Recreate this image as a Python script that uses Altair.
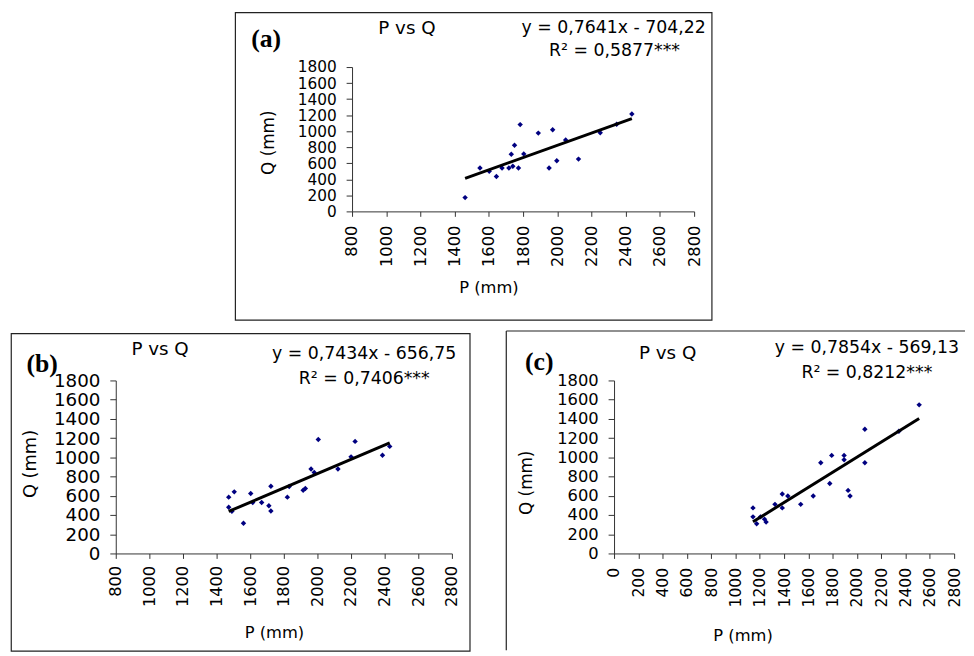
import altair as alt
import pandas as pd

# ---------------- data ----------------
P_A = [1461, 1548, 1602, 1644, 1677, 1717, 1731, 1740, 1750, 1773, 1783,
       1804, 1889, 1952, 1973, 1997, 2049, 2124, 2251, 2347, 2436]
Q_A = [172, 541, 500, 435, 541, 541, 713, 562, 824, 541, 1082,
       717, 976, 541, 1017, 631, 890, 652, 980, 1086, 1214]

P_B = [1472, 1472, 1491, 1505, 1560, 1603, 1615, 1668, 1711, 1723, 1723, 1821,
       1832, 1915, 1928, 1962, 1981, 2005, 2122, 2200, 2224, 2387, 2430]
Q_B = [586, 480, 439, 641, 315, 624, 531, 531, 497, 699, 442, 586,
       696, 658, 675, 878, 843, 1186, 878, 1005, 1166, 1022, 1114]

P_C = [1144, 1144, 1174, 1206, 1239, 1252, 1325, 1385, 1385, 1431, 1537, 1640,
       1702, 1776, 1792, 1894, 1894, 1927, 1943, 2065, 2065, 2345, 2512]
Q_C = [474, 381, 309, 381, 357, 326, 511, 618, 474, 598, 511, 598,
       944, 728, 1020, 1020, 975, 656, 598, 1292, 944, 1271, 1546]

SLOPES = [0.7641, 0.7434, 0.7854]
INTERCEPTS = [-704.22, -656.75, -569.13]
EQ_TEXT = ["y = 0,7641x - 704,22", "y = 0,7434x - 656,75", "y = 0,7854x - 569,13"]
R2_TEXT = ["R\u00b2 = 0,5877***", "R\u00b2 = 0,7406***", "R\u00b2 = 0,8212***"]
PANEL_LABELS = ["(a)", "(b)", "(c)"]
TITLE = "P vs Q"
X_TITLE = "P (mm)"
Y_TITLE = "Q (mm)"
X_TICKS_AB = list(range(800, 2801, 200))
X_TICKS_C = list(range(0, 2801, 200))
Y_TICKS = list(range(0, 1801, 200))

SANS = "DejaVu Sans"
SERIF = "Liberation Serif"
AXIS_COLOR = "#333333"
POINT_COLOR = "#000080"


def text_layer(s, x, y, size, font=SANS, weight="normal", align="center"):
    return alt.Chart(pd.DataFrame({"k": [0]})).mark_text(
        text=s, font=font, fontSize=size, fontWeight=weight, align=align,
        baseline="middle", color="black"
    ).encode(x=alt.value(x), y=alt.value(y))


def panel(P, Q, i, xmin, xticks, w, h, st):
    df = pd.DataFrame({"P": P, "Q": Q})
    lo, hi = min(P), max(P)
    line_df = pd.DataFrame({"P": [lo, hi],
                            "Q": [SLOPES[i] * lo + INTERCEPTS[i], SLOPES[i] * hi + INTERCEPTS[i]]})
    x_enc = alt.X(
        "P:Q",
        scale=alt.Scale(domain=[xmin, 2800], nice=False, zero=False),
        title=X_TITLE,
        axis=alt.Axis(
            values=xticks, format="d", labelAngle=-90, labelOverlap=False, labelFlush=False,
            labelFont=SANS, labelFontSize=st["xl"], labelColor="black",
            labelPadding=st["xpad"], tickSize=5, tickColor=AXIS_COLOR,
            domainColor=AXIS_COLOR, grid=False,
            titleFont=SANS, titleFontSize=16.5, titleFontWeight="normal",
            titleColor="black", titleX=st["xtx"], titleY=st["xty"],
            titleAlign="center", titleBaseline="middle", titleAngle=0,
        ),
    )
    y_enc = alt.Y(
        "Q:Q",
        scale=alt.Scale(domain=[0, 1800], nice=False),
        title=Y_TITLE,
        axis=alt.Axis(
            values=Y_TICKS, format="d", labelOverlap=False, labelFlush=False,
            labelFont=SANS, labelFontSize=st["yl"], labelColor="black",
            labelPadding=10, tickSize=6, tickColor=AXIS_COLOR,
            domainColor=AXIS_COLOR, grid=False,
            titleFont=SANS, titleFontSize=st["yt"], titleFontWeight="normal",
            titleColor="black", titleX=st["ytx"], titleY=st["yty"],
            titleAlign="center", titleBaseline="middle", titleAngle=-90,
        ),
    )
    pts = alt.Chart(df).mark_point(
        shape="diamond", filled=True, size=30, color=POINT_COLOR, opacity=1
    ).encode(x=x_enc, y=y_enc)
    ln = alt.Chart(line_df).mark_line(color="black", strokeWidth=3).encode(x=x_enc, y=y_enc)

    bx = st["box"]
    frame_data = pd.DataFrame({"k": [0]})
    if st.get("open"):
        frame = [
            alt.Chart(frame_data).mark_rule(color="#222222", strokeWidth=1.2).encode(
                x=alt.value(bx[0]), x2=alt.value(bx[1]), y=alt.value(bx[2])),
            alt.Chart(frame_data).mark_rule(color="#222222", strokeWidth=1.2).encode(
                x=alt.value(bx[0]), y=alt.value(bx[2]), y2=alt.value(bx[3])),
        ]
    else:
        frame = [
            alt.Chart(frame_data).mark_rect(
                fillOpacity=0, stroke="#222222", strokeWidth=1.2
            ).encode(x=alt.value(bx[0]), x2=alt.value(bx[1]),
                     y=alt.value(bx[2]), y2=alt.value(bx[3]))
        ]

    texts = [
        text_layer(PANEL_LABELS[i], st["lab"][0], st["lab"][1], 26, font=SERIF,
                   weight="bold", align="left"),
        text_layer(TITLE, st["tit"][0], st["tit"][1], 18.5),
        text_layer(EQ_TEXT[i], st["eq"][0], st["eq"][1], 17.5),
        text_layer(R2_TEXT[i], st["r2"][0], st["r2"][1], 17.5),
    ]
    return alt.layer(*frame, pts, ln, *texts).properties(width=w, height=h)


A = panel(P_A, Q_A, 0, 800, X_TICKS_AB, 346, 146, dict(
    xl=16.4, xpad=9, xtx=138, xty=77, yl=15.5, yt=17, ytx=-84, yty=76,
    box=(-118, 364, -55, 256), lab=(-102, -28), tit=(55.5, -39), eq=(264.5, -39), r2=(265.5, -16)))

B = panel(P_B, Q_B, 1, 800, X_TICKS_AB, 340, 175, dict(
    xl=16.4, xpad=7, xtx=160, xty=80, yl=18.5, yt=18, ytx=-86, yty=84,
    box=(-105.7, 358.3, -47.3, 273.7), lab=(-90.4, -17), tit=(44.8, -32), eq=(251.3, -26.3), r2=(251.3, -1.3)))

C = panel(P_C, Q_C, 2, 0, X_TICKS_C, 344, 175, dict(
    xl=15.8, xpad=9, xtx=130, xty=83, yl=16.5, yt=17, ytx=-88, yty=103,
    box=(-109, 355, -50, 273), open=True, lab=(-90, -18.5), tit=(54.2, -27.7), eq=(255.7, -32.7), r2=(255.7, -7.7)))

# spacer that pushes panel (a) to the right inside the top row
spacer = alt.Chart(pd.DataFrame({"k": [0]})).mark_rect(color="white").encode(
    x=alt.value(0), x2=alt.value(120), y=alt.value(0), y2=alt.value(1)
).properties(width=120, height=1)

chart = alt.vconcat(
    alt.hconcat(spacer, A, spacing=0),
    alt.hconcat(B, C, spacing=35),
    spacing=9,
).properties(
    padding={"left": 2, "top": 0, "right": 0, "bottom": 0}
).configure_view(strokeWidth=0)

chart.save("out.html", embed_options={"renderer": "svg", "actions": False})
